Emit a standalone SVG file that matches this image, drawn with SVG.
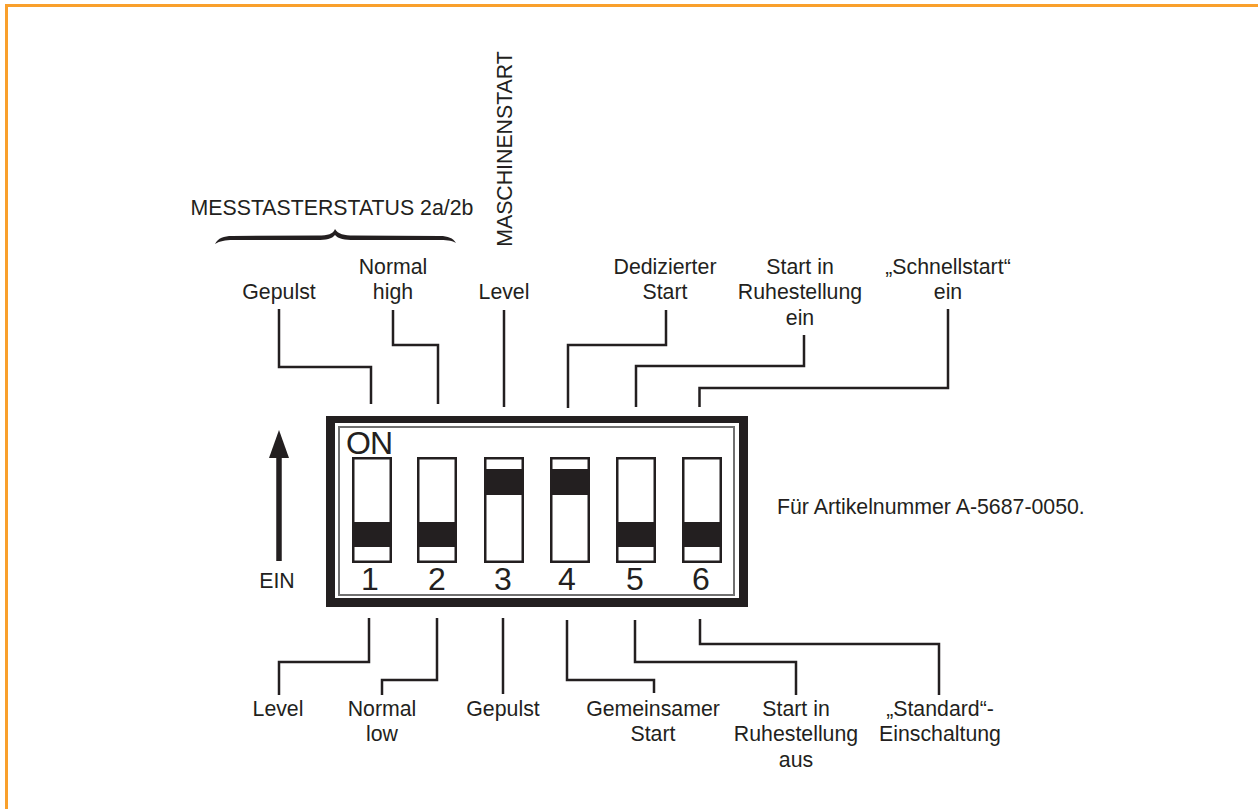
<svg xmlns="http://www.w3.org/2000/svg" width="1258" height="809" viewBox="0 0 1258 809">
<style>
text{font-family:"Liberation Sans",Arial,sans-serif;font-size:21.300px;fill:#231f20;text-anchor:middle}
.c{fill:none;stroke:#231f20;stroke-width:2.500}
.sw{fill:#fff;stroke:#231f20;stroke-width:2.500}
.k{fill:#231f20}
.n{font-size:32px}
</style>
<rect width="1258" height="809" fill="#fff"/>
<path d="M6.500 809V5.500H1258" fill="none" stroke="#f9a02c" stroke-width="3"/>
<g id="connectors">
<path class="c" d="M279 309V367H371V404"/>
<path class="c" d="M393 310V345H438V404"/>
<path class="c" d="M504 310V407"/>
<path class="c" d="M666 310V345H568V408"/>
<path class="c" d="M804 335V366H636V407"/>
<path class="c" d="M948 309V388H699.500V407"/>
<path class="c" d="M369 618V662H279V695"/>
<path class="c" d="M437 618V680H382V695"/>
<path class="c" d="M503 618V694"/>
<path class="c" d="M567 620V680H654V693"/>
<path class="c" d="M635 620V662H796V695"/>
<path class="c" d="M700 619V644H939V695"/>
</g>
<g id="arrow-ein">
<path d="M279 561V456" fill="none" stroke="#231f20" stroke-width="5.500"/>
<path class="k" d="M279 430L289 458H269Z"/>
<text x="277" y="588">EIN</text>
</g>
<g id="dip-switch">
<path class="k" fill-rule="evenodd" d="M326 416H748V607H326ZM335 423V598H739V423Z"/>
<rect x="339" y="427" width="395" height="168" fill="none" stroke="#707070" stroke-width="2"/>
<text x="369" y="454" style="font-size:32px;letter-spacing:-1px">ON</text>
</g>
<g id="switch-1"><rect class="sw" x="353.250" y="458.250" width="37.500" height="103.500"/><rect class="k" x="352" y="522" width="40" height="25"/><text class="n" x="370" y="590">1</text></g>
<g id="switch-2"><rect class="sw" x="418.250" y="458.250" width="37.500" height="103.500"/><rect class="k" x="417" y="522" width="40" height="25"/><text class="n" x="437" y="590">2</text></g>
<g id="switch-3"><rect class="sw" x="485.250" y="458.250" width="37.500" height="103.500"/><rect class="k" x="484" y="469" width="40" height="26"/><text class="n" x="503" y="590">3</text></g>
<g id="switch-4"><rect class="sw" x="551.250" y="458.250" width="37.500" height="103.500"/><rect class="k" x="550" y="469" width="40" height="26"/><text class="n" x="567" y="590">4</text></g>
<g id="switch-5"><rect class="sw" x="617.250" y="458.250" width="37.500" height="103.500"/><rect class="k" x="616" y="522" width="40" height="25"/><text class="n" x="635" y="590">5</text></g>
<g id="switch-6"><rect class="sw" x="683.250" y="458.250" width="37.500" height="103.500"/><rect class="k" x="682" y="522" width="40" height="25"/><text class="n" x="701" y="590">6</text></g>
<g id="group-messtasterstatus">
<text x="332" y="215">MESSTASTERSTATUS 2a/2b</text>
<path class="k" d="M215 244C218 238 224 236 232 236L318 235.500C328 235.500 333 234 335 229C338 234 344 235.500 354 235.500L440 236C448 236 453 238 456 243C451 240 446 240 438 240L354 240C345 240 338 239 335 235C332 239 326 240 317 240L233 240C225 240 220 241 215 244Z"/>
</g>
<g id="label-maschinenstart"><text transform="translate(512 149) rotate(-90)">MASCHINENSTART</text></g>
<g id="labels-top">
<text x="279" y="299">Gepulst</text>
<text x="393" y="274">Normal</text><text x="393" y="299">high</text>
<text x="504" y="299">Level</text>
<text x="665" y="274">Dedizierter</text><text x="665" y="299">Start</text>
<text x="800" y="274">Start in</text><text x="800" y="299">Ruhestellung</text><text x="800" y="325">ein</text>
<text x="948" y="274">„Schnellstart“</text><text x="948" y="299">ein</text>
</g>
<g id="labels-bottom">
<text x="278" y="716">Level</text>
<text x="382" y="716">Normal</text><text x="382" y="741">low</text>
<text x="503" y="716">Gepulst</text>
<text x="653" y="716">Gemeinsamer</text><text x="653" y="741">Start</text>
<text x="796" y="716">Start in</text><text x="796" y="741">Ruhestellung</text><text x="796" y="767">aus</text>
<text x="940" y="716">„Standard“-</text><text x="940" y="741">Einschaltung</text>
</g>
<g id="note"><text x="777" y="514" style="text-anchor:start">Für Artikelnummer A-5687-0050.</text></g>
</svg>
